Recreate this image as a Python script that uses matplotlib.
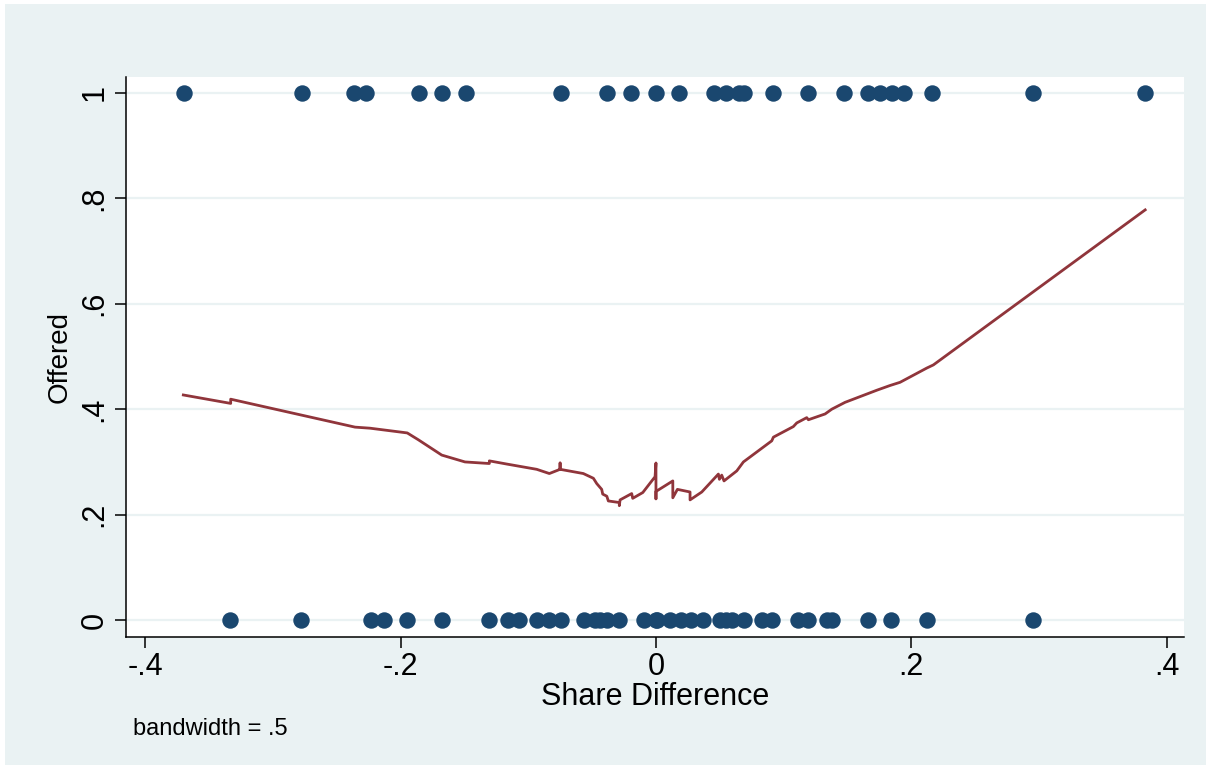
import matplotlib.pyplot as plt
from matplotlib.patches import Rectangle

plt.rcParams['font.family'] = ['Liberation Sans', 'DejaVu Sans']

# share difference of observations with Offered = 1 and Offered = 0
share_offered1 = [-0.370, -0.2774, -0.2364, -0.2275, -0.1857, -0.1673, -0.1489,
                  -0.0745, -0.0381, -0.0192, 0.0, 0.018, 0.0451, 0.055, 0.0647,
                  0.0693, 0.0917, 0.1191, 0.147, 0.1658, 0.1753, 0.1845, 0.194,
                  0.2163, 0.2951, 0.383]
share_offered0 = [-0.3335, -0.2779, -0.2229, -0.2132, -0.1948, -0.1673, -0.1304,
                  -0.116, -0.1074, -0.0934, -0.0837, -0.0745, -0.0562, -0.0481,
                  -0.0440, -0.0386, -0.0291, -0.0095, 0.0, 0.0005, 0.0113, 0.0194,
                  0.0275, 0.0369, 0.0505, 0.055, 0.0599, 0.0693, 0.0828, 0.0909,
                  0.1111, 0.1191, 0.134, 0.138, 0.1664, 0.1839, 0.2123, 0.2951]

# lowess fit (bandwidth .5)
lowess_x = [-0.3702, -0.3331, -0.3331, -0.2357, -0.2240, -0.1948, -0.1861, -0.1678,
            -0.1496, -0.1305, -0.1305, -0.1169, -0.0934, -0.0835, -0.0751, -0.0751,
            -0.0751, -0.0569, -0.0490, -0.0464, -0.0425, -0.0417, -0.0385, -0.0373,
            -0.0287, -0.0287, -0.0281, -0.0190, -0.0182, -0.0103, -0.0007, 0.0,
            0.0, 0.0, 0.0132, 0.0132, 0.0168, 0.0267, 0.0267, 0.0359, 0.0489,
            0.0497, 0.0515, 0.0533, 0.0633, 0.0685, 0.0907, 0.0920, 0.1076,
            0.1103, 0.1181, 0.1194, 0.1325, 0.1377, 0.1481, 0.1730, 0.1834,
            0.1912, 0.2121, 0.2173, 0.3832]
lowess_y = [0.427, 0.411, 0.419, 0.366, 0.364, 0.355, 0.342, 0.313,
            0.300, 0.297, 0.302, 0.296, 0.286, 0.278, 0.286, 0.298,
            0.286, 0.278, 0.269, 0.259, 0.248, 0.239, 0.235, 0.226,
            0.223, 0.217, 0.228, 0.240, 0.231, 0.242, 0.272, 0.298,
            0.230, 0.244, 0.264, 0.232, 0.248, 0.243, 0.228, 0.243, 0.277,
            0.267, 0.275, 0.264, 0.283, 0.300, 0.340, 0.347, 0.367,
            0.374, 0.384, 0.380, 0.391, 0.400, 0.413, 0.436, 0.445,
            0.451, 0.478, 0.484, 0.778]

x_ticks = [-0.4, -0.2, 0.0, 0.2, 0.4]
x_labels = ['-.4', '-.2', '0', '.2', '.4']
y_ticks = [0, 0.2, 0.4, 0.6, 0.8, 1]
y_labels = ['0', '.2', '.4', '.6', '.8', '1']

W, H = 1211, 769
fig = plt.figure(figsize=(W / 100, H / 100), dpi=100, facecolor='white')
fig.patches.append(Rectangle((5 / W, 4 / H), 1 - 10 / W, 1 - 8 / H,
                             transform=fig.transFigure, facecolor='#eaf2f3',
                             edgecolor='none', zorder=-10))

ax = fig.add_axes([126 / W, (H - 637) / H, (1184 - 126) / W, (637 - 77) / H])
ax.set_facecolor('white')

navy = '#1a476f'
maroon = '#90353b'
ax.scatter(share_offered1, [1] * len(share_offered1), s=140, color=navy,
           linewidths=0, zorder=3)
ax.scatter(share_offered0, [0] * len(share_offered0), s=140, color=navy,
           linewidths=0, zorder=3)
ax.plot(lowess_x, lowess_y, color=maroon, lw=2.0, zorder=4)

ax.set_xlim(-0.4151, 0.4136)
ax.set_ylim(-0.032, 1.030)

ax.set_xticks(x_ticks)
ax.set_xticklabels(x_labels, fontsize=22)
ax.set_yticks(y_ticks)
ax.set_yticklabels(y_labels, fontsize=22, rotation=90, va='center')

ax.grid(axis='y', color='#eaf2f3', lw=1.6, zorder=0)
ax.set_axisbelow(True)

for s in ['top', 'right']:
    ax.spines[s].set_visible(False)
for s in ['left', 'bottom']:
    ax.spines[s].set_color('black')
    ax.spines[s].set_linewidth(1.1)
ax.tick_params(axis='both', length=8, width=1.1, color='black')
ax.tick_params(axis='x', pad=3)
ax.tick_params(axis='y', pad=4)

ax.set_xlabel('Share Difference', fontsize=22)
ax.xaxis.set_label_coords(0.5, (637 - 697) / 560)
ax.xaxis.label.set_va('center')
ax.set_ylabel('Offered', fontsize=20)
ax.yaxis.set_label_coords((60 - 126) / 1058, 0.5)
ax.yaxis.label.set_va('center')

fig.text(133 / W, 1 - 729 / H, 'bandwidth = .5', fontsize=17, va='center', ha='left')

fig.savefig('out.png', dpi=100, facecolor=fig.get_facecolor())
